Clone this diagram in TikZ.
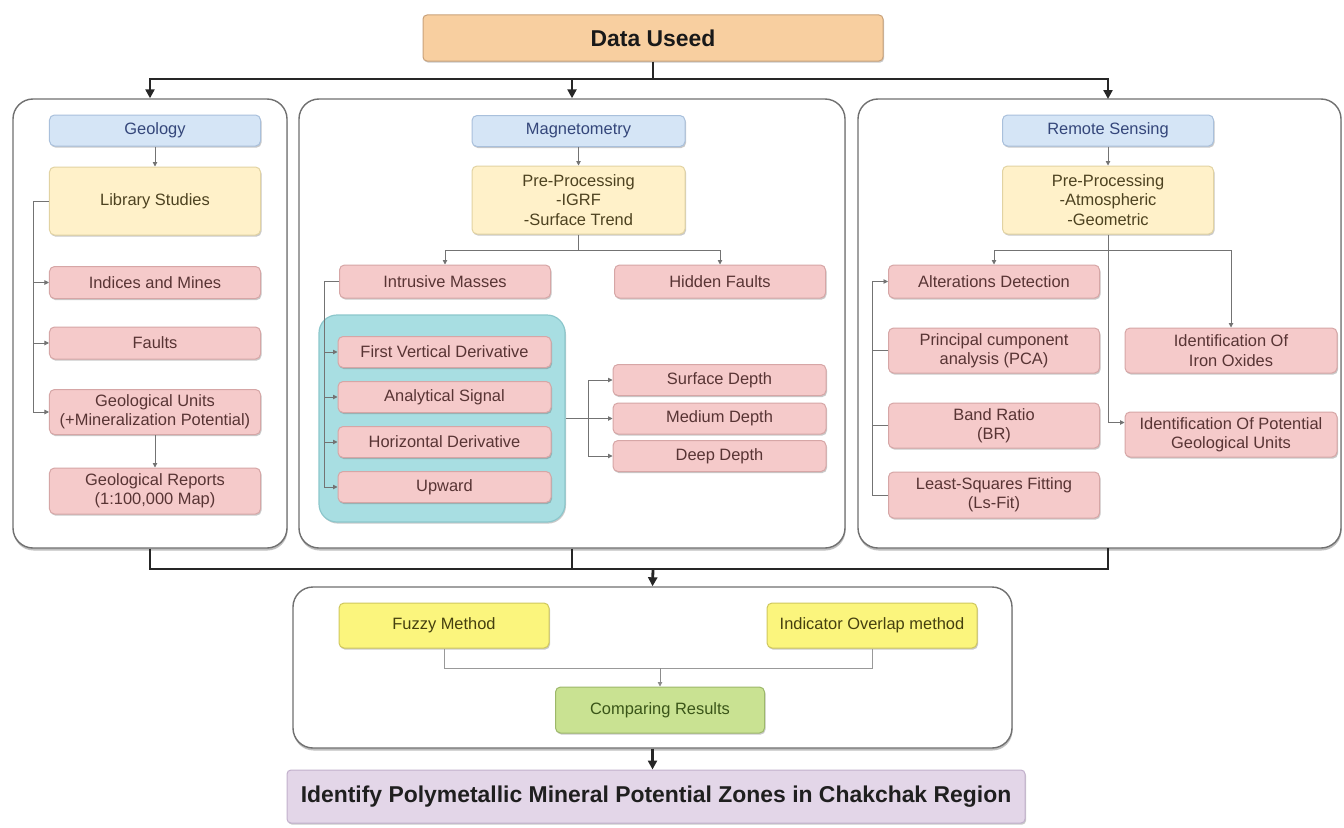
\documentclass[tikz,border=0pt]{standalone}
\usepackage{fontspec}
\setmainfont{Liberation Sans}
\usetikzlibrary{arrows.meta,shadows}
\definecolor{orF}{HTML}{F8CFA0}\definecolor{orD}{HTML}{C9A27A}
\definecolor{hdF}{HTML}{D5E5F6}\definecolor{hdD}{HTML}{A9C0DC}\definecolor{hdT}{HTML}{34467A}
\definecolor{ylF}{HTML}{FFF1C9}\definecolor{ylD}{HTML}{E2D3A2}\definecolor{ylT}{HTML}{4D4220}
\definecolor{pkF}{HTML}{F5CACA}\definecolor{pkD}{HTML}{D6A6A6}\definecolor{pkT}{HTML}{583434}
\definecolor{tlF}{HTML}{A8DEE2}\definecolor{tlD}{HTML}{8CC7CC}
\definecolor{byF}{HTML}{FBF57D}\definecolor{byD}{HTML}{CFC75E}\definecolor{byT}{HTML}{45400F}
\definecolor{grF}{HTML}{C9E292}\definecolor{grD}{HTML}{9DB86A}\definecolor{grT}{HTML}{3A5518}
\definecolor{lvF}{HTML}{E3D6E8}\definecolor{lvD}{HTML}{C2B0CC}
\definecolor{pnD}{HTML}{707070}
\begin{document}
\begin{tikzpicture}[x=1bp,y=-1bp,
  every node/.style={font=\fontsize{16.5}{19.5}\selectfont, align=center, inner sep=0pt},
  sh/.style={drop shadow={shadow xshift=1bp,shadow yshift=-1.6bp,opacity=0.35,fill=black!60}},
  bx/.style={rounded corners=5bp, line width=1bp, sh},
  hdr/.style={bx, fill=hdF, draw=hdD, text=hdT, minimum width=211bp, minimum height=31bp},
  ylb/.style={bx, fill=ylF, draw=ylD, text=ylT, minimum width=211bp, minimum height=68bp},
  pkb/.style={bx, fill=pkF, draw=pkD, text=pkT, minimum width=211bp, minimum height=32bp},
  pk2/.style={pkb, minimum height=45bp},
  byb/.style={bx, fill=byF, draw=byD, text=byT, minimum width=210bp, minimum height=45bp},
  panel/.style={rounded corners=20bp, fill=white, draw=pnD, line width=1.4bp,
     drop shadow={shadow xshift=0.5bp,shadow yshift=-2.5bp,opacity=0.45,fill=black!55}},
  big/.style={line width=2.8bp, draw=black!85},
  bigarr/.style={big, -{Triangle[length=9bp,width=9bp]}},
  thn/.style={line width=0.9bp, draw=black!55},
  tarr/.style={thn, -{Triangle[length=4.5bp,width=4.5bp]}}
]
\path[use as bounding box, fill=white] (0,0) rectangle (1344,827);

% panels
\node[panel, minimum width=274bp, minimum height=449bp] (geoP) at (150,323.5) {};
\node[panel, minimum width=546bp, minimum height=449bp] (magP) at (572,323.5) {};
\node[panel, minimum width=483bp, minimum height=449bp] (remP) at (1099.5,323.5) {};
\node[panel, minimum width=719bp, minimum height=161bp] (fuzP) at (652.5,667.5) {};
\node[rounded corners=18bp, fill=tlF, draw=tlD, line width=1.2bp, sh,
      minimum width=246bp, minimum height=207bp] (teal) at (442,418.5) {};

% top
\node[bx, rounded corners=4bp, fill=orF, draw=orD, minimum width=460bp, minimum height=46bp,
      font=\fontsize{23}{27}\selectfont\bfseries, text=black!90] (data) at (653,38) {Data Useed};

% geology
\node[hdr] (geoH) at (155,130.5) {Geology};
\node[ylb] (lib) at (155,201) {Library Studies};
\node[pkb] (ind) at (155,282.5) {Indices and Mines};
\node[pkb] (flt) at (155,343) {Faults};
\node[pk2] (unit) at (155,412) {Geological Units\\(+Mineralization Potential)};
\node[pk2, minimum height=46bp] (rep) at (155,491) {Geological Reports\\(1:100,000 Map)};

% magnetometry
\node[hdr, minimum width=213bp] (magH) at (578.5,131) {Magnetometry};
\node[ylb, minimum width=213bp] (mpre) at (578.5,200) {Pre-Processing\\-IGRF\\-Surface Trend};
\node[pkb, minimum height=33bp] (intr) at (445,281.5) {Intrusive Masses};
\node[pkb, minimum height=33bp] (hid) at (720,281.5) {Hidden Faults};
\node[pkb, minimum width=213bp, minimum height=31bp] (fvd) at (444.5,352) {First Vertical Derivative};
\node[pkb, minimum width=213bp, minimum height=31bp] (asig) at (444.5,397) {Analytical Signal};
\node[pkb, minimum width=213bp, minimum height=31bp] (hder) at (444.5,442) {Horizontal Derivative};
\node[pkb, minimum width=213bp, minimum height=31bp] (upw) at (444.5,487) {Upward};
\node[pkb, minimum width=213bp, minimum height=31bp] (surf) at (719.5,380) {Surface Depth};
\node[pkb, minimum width=213bp, minimum height=31bp] (med) at (719.5,418.5) {Medium Depth};
\node[pkb, minimum width=213bp, minimum height=31bp] (deep) at (719.5,456) {Deep Depth};

% remote sensing
\node[hdr] (remH) at (1108,130.5) {Remote Sensing};
\node[ylb] (rpre) at (1108,200) {Pre-Processing\\-Atmospheric\\-Geometric};
\node[pkb, minimum height=33bp] (ralt) at (994,281.5) {Alterations Detection};
\node[pk2] (rpca) at (994,350.5) {Principal cumponent\\analysis (PCA)};
\node[pk2] (rbr) at (994,425.5) {Band Ratio\\(BR)};
\node[pk2, minimum height=46bp] (rls) at (994,495) {Least-Squares Fitting\\(Ls-Fit)};
\node[pk2, minimum width=212bp] (riron) at (1231,350.5) {Identification Of\\Iron Oxides};
\node[pk2, minimum width=212bp] (rpot) at (1231,434.5) {Identification Of Potential\\Geological Units};

% bottom
\node[byb] (fuz) at (444,625.5) {Fuzzy Method};
\node[byb] (indo) at (872,625.5) {Indicator Overlap method};
\node[bx, fill=grF, draw=grD, text=grT, minimum width=209bp, minimum height=46bp] (comp) at (660,710) {Comparing Results};
\node[bx, rounded corners=4bp, fill=lvF, draw=lvD, minimum width=738bp, minimum height=53bp,
      font=\fontsize{23}{27}\selectfont\bfseries, text=black!88] (ident) at (656,796.5)
      {Identify Polymetallic Mineral Potential Zones in Chakchak Region};

% main bus connectors
\coordinate (busT) at (653,79);
\coordinate (remIn) at (1108,99);
\coordinate (remOut) at (1108,548);
\coordinate (busB) at (653,569);
\draw[big] (data.south) -- (busT);
\draw[bigarr] (busT) -| (geoP.north);
\draw[bigarr] (busT) -| (magP.north);
\draw[bigarr] (busT) -| (remIn);
\draw[big] (geoP.south) |- (busB);
\draw[big] (magP.south) |- (busB);
\draw[big] (remOut) |- (busB);
\draw[bigarr] (busB) -- (fuzP.north);
\draw[bigarr] (fuzP.south) -- (fuzP.south |- ident.north);

% geology connectors
\draw[tarr] (geoH.south) -- (lib.north);
\draw[thn] (lib.west) -- ++(-16,0) coordinate (gl);
\draw[tarr] (gl) |- (ind.west);
\draw[tarr] (gl) |- (flt.west);
\draw[tarr] (gl) |- (unit.west);
\draw[tarr] (unit.south) -- (rep.north);

% magnetometry connectors
\draw[tarr] (magH.south) -- (mpre.north);
\coordinate (mj) at (578.5,250);
\draw[thn] (mpre.south) -- (mj);
\draw[tarr] (mj) -| (intr.north);
\draw[tarr] (mj) -| (hid.north);
\draw[thn] (intr.west) -- ++(-15,0) coordinate (ml);
\draw[tarr] (ml) |- (fvd.west);
\draw[tarr] (ml) |- (asig.west);
\draw[tarr] (ml) |- (hder.west);
\draw[tarr] (ml) |- (upw.west);
\draw[thn] (teal.east) -- ++(23,0) coordinate (dj);
\draw[tarr] (dj) |- (surf.west);
\draw[tarr] (dj) -- (med.west);
\draw[tarr] (dj) |- (deep.west);

% remote connectors
\draw[tarr] (remH.south) -- (rpre.north);
\coordinate (rj) at (1108,250);
\draw[tarr] (rpre.south) |- ([yshift=12bp]rpot.west);
\draw[tarr] (rj) -| (ralt.north);
\draw[tarr] (rj) -| (riron.north);
\draw[thn] (rpca.west) -- ++(-16,0);
\draw[thn] (rbr.west) -- ++(-16,0);
\draw[tarr] (rls.west) -- ++(-16,0) |- (ralt.west);

% fuzzy connectors
\draw[thn, draw=black!40] (fuz.south) -- ++(0,20) -| (indo.south);
\coordinate (fj) at (660,668);
\draw[tarr, draw=black!45] (fj) -- (comp.north);
\end{tikzpicture}
\end{document}
